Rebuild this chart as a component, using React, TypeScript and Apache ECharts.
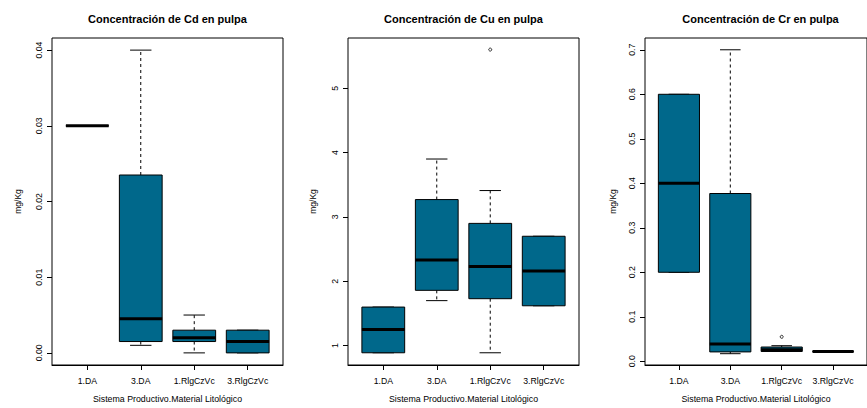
import React, { useEffect, useRef } from "react";
import * as echarts from "echarts";

// Groups shared by all three panels
const categories = ["1.DA", "3.DA", "1.RlgCzVc", "3.RlgCzVc"];

// Panel titles
const titles = [
  "Concentración de Cd en pulpa",
  "Concentración de Cu en pulpa",
  "Concentración de Cr en pulpa",
];

// Five-number summaries per group: [min, Q1, median, Q3, max]
const cdStats = [
  [0.03, 0.03, 0.03, 0.03, 0.03],
  [0.001, 0.0015, 0.0045, 0.0235, 0.04],
  [0.0, 0.0015, 0.002, 0.003, 0.005],
  [0.0, 0.0, 0.0015, 0.003, 0.003],
];
const cuStats = [
  [0.89, 0.89, 1.25, 1.6, 1.6],
  [1.7, 1.86, 2.33, 3.27, 3.9],
  [0.89, 1.73, 2.23, 2.9, 3.41],
  [1.62, 1.62, 2.16, 2.7, 2.7],
];
const crStats = [
  [0.2, 0.2, 0.4, 0.6, 0.6],
  [0.017, 0.021, 0.039, 0.377, 0.7],
  [0.022, 0.022, 0.026, 0.032, 0.035],
  [0.022, 0.022, 0.022, 0.022, 0.022],
];

// Outliers: [group number (1-based), value]
const cdOutliers: number[][] = [];
const cuOutliers = [[3, 5.6]];
const crOutliers = [[3, 0.055]];

// Y tick values per panel
const cdTicks = [0, 0.01, 0.02, 0.03, 0.04];
const cuTicks = [1, 2, 3, 4, 5];
const crTicks = [0, 0.1, 0.2, 0.3, 0.4, 0.5, 0.6, 0.7];

const FONT = "'Liberation Sans', Arial, Helvetica, sans-serif";
const BOX_FILL = "#00688B";

const panels = [
  { title: titles[0], stats: cdStats, outliers: cdOutliers, ticks: cdTicks, ymin: -0.0016, ymax: 0.0416, digits: 2, left: 52, nameGap: 30 },
  { title: titles[1], stats: cuStats, outliers: cuOutliers, ticks: cuTicks, ymin: 0.7, ymax: 5.78, digits: 0, left: 348, nameGap: 31 },
  { title: titles[2], stats: crStats, outliers: crOutliers, ticks: crTicks, ymin: -0.0084, ymax: 0.7265, digits: 1, left: 645, nameGap: 28 },
];

const GRID_TOP = 38;
const GRID_W = 231;
const GRID_H = 333;

// R-style box: dashed whiskers, staples, filled box, thick median
function renderBox(_params: any, api: any) {
  const x = api.value(0);
  const mn = api.value(1);
  const q1 = api.value(2);
  const md = api.value(3);
  const q3 = api.value(4);
  const mx = api.value(5);
  const half = api.size([0.8, 0])[0] / 2;
  const cx = api.coord([x, md])[0];
  const y = (v: number) => api.coord([x, v])[1];
  const thin = { stroke: "#000", lineWidth: 1 };
  const dashed = { stroke: "#000", lineWidth: 1, lineDash: [3, 3] };
  const children: any[] = [];
  if (mx > q3) {
    children.push({ type: "line", shape: { x1: cx, y1: y(q3), x2: cx, y2: y(mx) }, style: dashed });
  }
  if (mn < q1) {
    children.push({ type: "line", shape: { x1: cx, y1: y(q1), x2: cx, y2: y(mn) }, style: dashed });
  }
  children.push({ type: "line", shape: { x1: cx - half / 2, y1: y(mx), x2: cx + half / 2, y2: y(mx) }, style: thin });
  children.push({ type: "line", shape: { x1: cx - half / 2, y1: y(mn), x2: cx + half / 2, y2: y(mn) }, style: thin });
  children.push({
    type: "rect",
    shape: { x: cx - half, y: y(q3), width: half * 2, height: y(q1) - y(q3) },
    style: { fill: BOX_FILL, stroke: "#000", lineWidth: 1 },
  });
  children.push({ type: "line", shape: { x1: cx - half, y1: y(md), x2: cx + half, y2: y(md) }, style: { stroke: "#000", lineWidth: 3 } });
  return { type: "group", children };
}

export default function App() {
  const ref = useRef<HTMLDivElement>(null);

  useEffect(() => {
    document.body.style.margin = "0";
    if (!ref.current) return;
    const chart = echarts.init(ref.current, undefined, { renderer: "svg" });

    const grids = panels.map((p) => ({
      left: p.left,
      top: GRID_TOP,
      width: GRID_W,
      height: GRID_H,
      show: true,
      borderColor: "#000",
      borderWidth: 1,
      backgroundColor: "transparent",
    }));

    const xAxes = panels.map((_p, i) => ({
      type: "value",
      gridIndex: i,
      min: 0.34,
      max: 4.66,
      name: "Sistema Productivo.Material Litológico",
      nameLocation: "middle",
      nameGap: 29,
      nameTextStyle: { fontFamily: FONT, fontSize: 8.8, color: "#000" },
      axisLine: { show: true, onZero: false, lineStyle: { color: "#000", width: 1 } },
      axisTick: { show: true, length: 5, customValues: [1, 2, 3, 4], lineStyle: { color: "#000" } },
      axisLabel: {
        show: true,
        customValues: [1, 2, 3, 4],
        margin: 11,
        fontFamily: FONT,
        fontSize: 8.7,
        color: "#000",
        formatter: (v: number) => categories[Math.round(v) - 1] ?? "",
      },
      splitLine: { show: false },
    }));

    const yAxes = panels.map((p, i) => ({
      type: "value",
      gridIndex: i,
      min: p.ymin,
      max: p.ymax,
      name: "mg/Kg",
      nameLocation: "middle",
      nameGap: p.nameGap,
      nameTextStyle: { fontFamily: FONT, fontSize: 8.5, color: "#000" },
      axisLine: { show: false, onZero: false },
      axisTick: { show: true, length: 5, customValues: p.ticks, lineStyle: { color: "#000" } },
      axisLabel: {
        show: true,
        customValues: p.ticks,
        rotate: 90,
        margin: 9,
        fontFamily: FONT,
        fontSize: 8.7,
        color: "#000",
        formatter: (v: number) => v.toFixed(p.digits),
      },
      splitLine: { show: false },
    }));

    const series: any[] = [];
    panels.forEach((p, i) => {
      series.push({
        type: "custom",
        xAxisIndex: i,
        yAxisIndex: i,
        renderItem: renderBox,
        encode: { x: 0, y: [1, 2, 3, 4, 5] },
        data: p.stats.map((s, k) => [k + 1, ...s]),
        clip: false,
        silent: true,
      });
      series.push({
        type: "scatter",
        xAxisIndex: i,
        yAxisIndex: i,
        symbol: "circle",
        symbolSize: 3,
        itemStyle: { color: "#fff", borderColor: "#000", borderWidth: 1 },
        data: p.outliers,
        silent: true,
      });
    });

    const graphic = panels.map((p) => ({
      type: "text",
      x: p.left + GRID_W / 2,
      y: 19,
      style: {
        text: p.title,
        fontFamily: FONT,
        fontSize: 11,
        fontWeight: "bold",
        fill: "#000",
        textAlign: "center",
        textVerticalAlign: "middle",
      },
    }));

    chart.setOption({
      animation: false,
      backgroundColor: "#fff",
      grid: grids,
      xAxis: xAxes,
      yAxis: yAxes,
      series,
      graphic,
    });

    return () => chart.dispose();
  }, []);

  return (
    <div
      ref={ref}
      style={{ position: "absolute", left: 0, top: 0, width: 867, height: 408 }}
    />
  );
}
